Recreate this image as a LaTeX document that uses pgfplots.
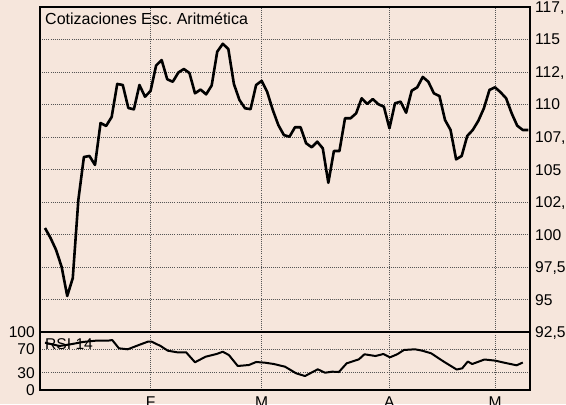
\documentclass[border=0pt]{standalone}
\usepackage{fontspec}
\setmainfont{Liberation Sans}
\usepackage{pgfplots}
\pgfplotsset{compat=1.18}
\usepackage{pgfplotstable}
\frenchspacing
\definecolor{bg}{RGB}{246,230,220}
\definecolor{gridc}{RGB}{85,85,85}

\pgfplotstableread{
i v
0 100.50
1 99.73
2 98.81
3 97.50
4 95.27
5 96.65
6 102.65
7 105.96
8 106.04
9 105.35
10 108.58
11 108.35
12 109.04
13 111.58
14 111.50
15 109.73
16 109.63
17 111.50
18 110.60
19 111.04
20 113.00
21 113.42
22 111.94
23 111.75
24 112.46
25 112.73
26 112.42
27 110.86
28 111.15
29 110.78
30 111.46
31 114.06
32 114.67
33 114.27
34 111.58
35 110.35
36 109.71
37 109.64
38 111.50
39 111.82
40 110.96
41 109.58
42 108.42
43 107.65
44 107.52
45 108.25
46 108.25
47 107.02
48 106.71
49 107.14
50 106.63
51 103.98
52 106.42
53 106.42
54 108.94
55 108.94
56 109.32
57 110.48
58 110.04
59 110.42
60 110.02
61 109.83
62 108.17
63 110.09
64 110.22
65 109.37
66 111.06
67 111.32
68 112.12
69 111.75
70 110.86
71 110.65
72 108.81
73 108.04
74 105.78
75 106.04
76 107.58
77 108.04
78 108.75
79 109.71
80 111.12
81 111.32
82 110.94
83 110.48
84 109.32
85 108.37
86 108.04
87 108.04
}\price

\pgfplotstableread{
i r
0 81.6
2.6 75.9
4.9 79.3
6.8 82.8
9.1 85.0
11.3 85.0
12.1 86.2
13.3 71.9
14.9 70.2
16.9 77.6
18.5 83.3
19.2 83.3
20.8 75.9
22.1 67.8
23.8 65.0
25.4 65.0
27.0 47.8
28.9 57.4
30.9 62.1
32.0 66.0
33.1 60.3
34.7 41.4
36.7 43.1
38.0 48.3
39.6 47.1
41.2 44.8
43.2 40.2
45.2 28.8
46.8 24.1
49.1 35.7
50.4 29.8
51.7 31.6
52.9 31.0
54.3 46.0
56.5 52.9
57.5 61.6
59.5 58.6
60.9 62.1
62.1 56.4
63.4 61.6
64.6 69.0
66.6 70.2
67.9 67.8
69.5 63.3
71.8 48.8
74.1 35.3
75.1 37.4
76.1 49.1
76.9 44.8
79.1 52.6
81.0 50.7
82.9 46.6
84.9 42.6
86.0 47.4
}\rsi

\begin{document}
\begin{tikzpicture}[x=1bp,y=1bp]
\useasboundingbox (0,0) rectangle (566,404);
\fill[bg] (0,0) rectangle (566,404);
\clip (0,0) rectangle (566,404);
\pgfplotsset{
  every axis/.append style={
    scale only axis,
    width=490bp,
    xmin=-0.9, xmax=87.3,
    xtick={19,39,62,81},
    major tick length=0pt,
    grid=major,
    grid style={gridc, dash pattern=on 0.9bp off 1.2bp, line width=0.7bp},
    axis line style={black, line width=1.3bp},
    tick label style={font=\fontsize{15.6bp}{18bp}\selectfont, inner sep=0pt},
  }
}
\begin{axis}[
  at={(40bp,72bp)}, anchor=south west,
  height=325bp,
  ymin=92.5, ymax=117.5,
  ytick={92.5,95,97.5,100,102.5,105,107.5,110,112.5,115,117.5},
  yticklabels={{92,5},{95},{97,5},{100},{102,},{105},{107,},{110},{112,},{115},{117,}},
  yticklabel pos=right,
  yticklabel style={anchor=base west, xshift=5bp, yshift=-5.5bp},
  xticklabels={},
]
\node[anchor=base west, inner sep=0pt, xshift=5bp, yshift=-17.3bp, font=\fontsize{16bp}{19bp}\selectfont]
  at (rel axis cs:0,1) {Cotizaciones Esc. Aritmética};
\addplot[black, line width=2.6bp, line join=round, no markers] table[x=i, y=v] {\price};
\end{axis}
\begin{axis}[
  at={(40bp,14bp)}, anchor=south west,
  height=58bp,
  ymin=0, ymax=100,
  ytick={0,30,70,100},
  yticklabels={0,30,70,100},
  yticklabel style={anchor=base east, xshift=-5bp, yshift=-5.5bp},
  xticklabels={F,M,A,M},
  xticklabel style={anchor=north, yshift=-7bp},
]
\node[anchor=base west, inner sep=0pt, xshift=5bp, yshift=-17bp, font=\fontsize{15.6bp}{18bp}\selectfont]
  at (rel axis cs:0,1) {RSI 14};
\addplot[black, line width=2bp, line join=round, no markers] table[x=i, y=r] {\rsi};
\end{axis}
\end{tikzpicture}
\end{document}
